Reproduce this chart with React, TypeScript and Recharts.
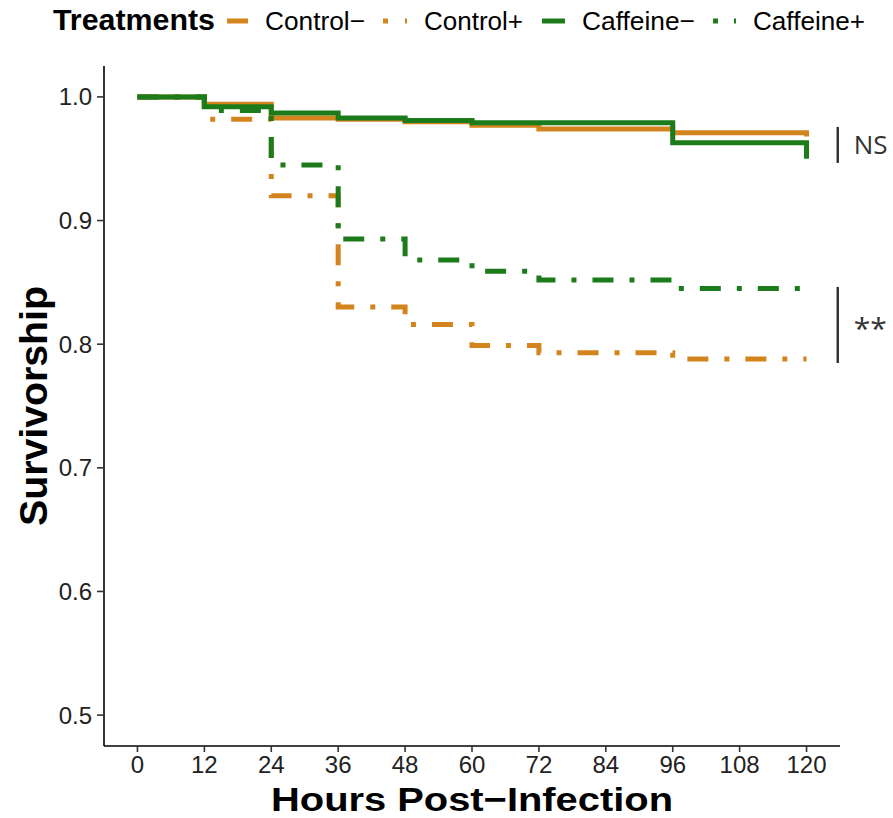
import React from 'react';
import { LineChart, Line, XAxis, YAxis, ReferenceLine, ReferenceDot } from 'recharts';

// ---- data ----
const hours = [0, 12, 24, 36, 48, 60, 72, 96, 120];
const controlMinus = [1, 0.994, 0.983, 0.982, 0.98, 0.977, 0.974, 0.971, 0.968];
const controlPlus = [1, 0.982, 0.92, 0.83, 0.816, 0.799, 0.793, 0.788, 0.788];
const caffeineMinus = [1, 0.992, 0.987, 0.983, 0.981, 0.979, 0.979, 0.963, 0.95];
const caffeinePlus = [1, 0.989, 0.945, 0.885, 0.868, 0.859, 0.852, 0.845, 0.838];
const xTicks = [0, 12, 24, 36, 48, 60, 72, 84, 96, 108, 120];
const yTicks = [0.5, 0.6, 0.7, 0.8, 0.9, 1.0];
const seriesNames = ['Control−', 'Control+', 'Caffeine−', 'Caffeine+'];
const legendTitle = 'Treatments';
const xTitle = 'Hours Post−Infection';
const yTitle = 'Survivorship';
const nsBar = [0.9757, 0.9466];
const starBar = [0.8463, 0.7848];
const annotations = ['NS', '**'];

const ORANGE = '#D4841C';
const GREEN = '#1C7C1C';
const DASHDOT = '21 16 5 16';
const FONT = "'Liberation Sans', Arial, Helvetica, sans-serif";
const ANN_FONT = "'Open Sans', 'DejaVu Sans', sans-serif";

const keys = ['cm', 'cp', 'fm', 'fp'];
const data = hours.map((h, i) => ({
  h,
  cm: controlMinus[i],
  cp: controlPlus[i],
  fm: caffeineMinus[i],
  fp: caffeinePlus[i],
}));

const styles = [
  { color: ORANGE, dash: undefined as string | undefined },
  { color: ORANGE, dash: DASHDOT },
  { color: GREEN, dash: undefined as string | undefined },
  { color: GREEN, dash: DASHDOT },
];

// legend layout (pixels)
const legendLayout = [
  { keyX: 227, keyW: 21, keyDash: undefined as string | undefined, textX: 265, textW: 100 },
  { keyX: 383, keyW: 26, keyDash: '5 17 2 100', textX: 424, textW: 99 },
  { keyX: 542, keyW: 23, keyDash: undefined as string | undefined, textX: 582, textW: 113 },
  { keyX: 713, keyW: 26, keyDash: '5 16 2 100', textX: 753, textW: 112 },
];

const Legend = () => (
  <svg width={893} height={45} style={{ position: 'absolute', left: 0, top: 0 }}>
    <text x={53} y={30} fontFamily={FONT} fontWeight="bold" fontSize={29} fill="#000"
      textLength={162} lengthAdjust="spacingAndGlyphs">{legendTitle}</text>
    {seriesNames.map((n, i) => {
      const L = legendLayout[i];
      return (
        <g key={n}>
          <line x1={L.keyX} x2={L.keyX + L.keyW} y1={21} y2={21} stroke={styles[i].color}
            strokeWidth={5} strokeDasharray={L.keyDash} />
          <text x={L.textX} y={30} fontFamily={FONT} fontSize={26} fill="#000"
            textLength={L.textW} lengthAdjust="spacingAndGlyphs">{n}</text>
        </g>
      );
    })}
  </svg>
);

const XTitle = (props: any) => {
  const vb = props.viewBox || {};
  return (
    <text x={vb.x + vb.width / 2} y={810.5} textAnchor="middle" fontFamily={FONT} fontWeight="bold"
      fontSize={34} fill="#000" textLength={402} lengthAdjust="spacingAndGlyphs">{xTitle}</text>
  );
};

const YTitle = (props: any) => {
  const vb = props.viewBox || {};
  const cy = vb.y + vb.height / 2;
  const x = 47;
  return (
    <text x={x} y={cy} transform={`rotate(-90 ${x} ${cy})`} textAnchor="middle" fontFamily={FONT}
      fontWeight="bold" fontSize={38} fill="#000" textLength={240} lengthAdjust="spacingAndGlyphs">{yTitle}</text>
  );
};

const annLabel = (text: string, dy: number, size: number) => (props: any) => {
  const vb = props.viewBox || { x: 0, y: 0 };
  return (
    <text x={vb.x + 16} y={vb.y + dy} fontFamily={ANN_FONT} fontSize={size} fill="#333">{text}</text>
  );
};

export default function App() {
  const annX = 125.6;
  return (
    <div style={{ position: 'absolute', left: 0, top: 0, width: 893, height: 818, background: '#fff' }}>
      <LineChart width={893} height={818} data={data} margin={{ top: 66, right: 53, left: 0, bottom: 0 }}>
        <XAxis dataKey="h" type="number" domain={[-6, 126]} ticks={xTicks} interval={0} height={72}
          allowDataOverflow tickSize={6} tickMargin={4}
          tick={{ fontSize: 24, fill: '#222', fontFamily: FONT }}
          axisLine={{ stroke: '#000', strokeWidth: 1.6 }} tickLine={{ stroke: '#333', strokeWidth: 1.6 }}
          label={{ content: XTitle }} />
        <YAxis type="number" domain={[0.475, 1.025]} ticks={yTicks} interval={0} width={104}
          allowDataOverflow tickSize={7} tickMargin={5} tickFormatter={(v: number) => v.toFixed(1)}
          tick={{ fontSize: 24, fill: '#222', fontFamily: FONT }}
          axisLine={{ stroke: '#000', strokeWidth: 1.6 }} tickLine={{ stroke: '#333', strokeWidth: 1.6 }}
          label={{ content: YTitle }} />
        {keys.map((k, i) => (
          <Line key={k} dataKey={k} name={seriesNames[i]} type="stepAfter" stroke={styles[i].color}
            strokeWidth={5} strokeDasharray={styles[i].dash} dot={false} activeDot={false}
            strokeLinejoin="miter" strokeLinecap="butt" isAnimationActive={false} />
        ))}
        <ReferenceLine segment={[{ x: annX, y: nsBar[0] }, { x: annX, y: nsBar[1] }]} stroke="#333"
          strokeWidth={2.5} ifOverflow="visible" />
        <ReferenceLine segment={[{ x: annX, y: starBar[0] }, { x: annX, y: starBar[1] }]} stroke="#333"
          strokeWidth={2.5} ifOverflow="visible" />
        <ReferenceDot x={annX} y={(nsBar[0] + nsBar[1]) / 2} r={0} fill="none" stroke="none"
          ifOverflow="visible" label={{ content: annLabel(annotations[0], 9, 26) }} />
        <ReferenceDot x={annX} y={(starBar[0] + starBar[1]) / 2} r={0} fill="none" stroke="none"
          ifOverflow="visible" label={{ content: annLabel(annotations[1], 14, 30) }} />
      </LineChart>
      <Legend />
    </div>
  );
}
